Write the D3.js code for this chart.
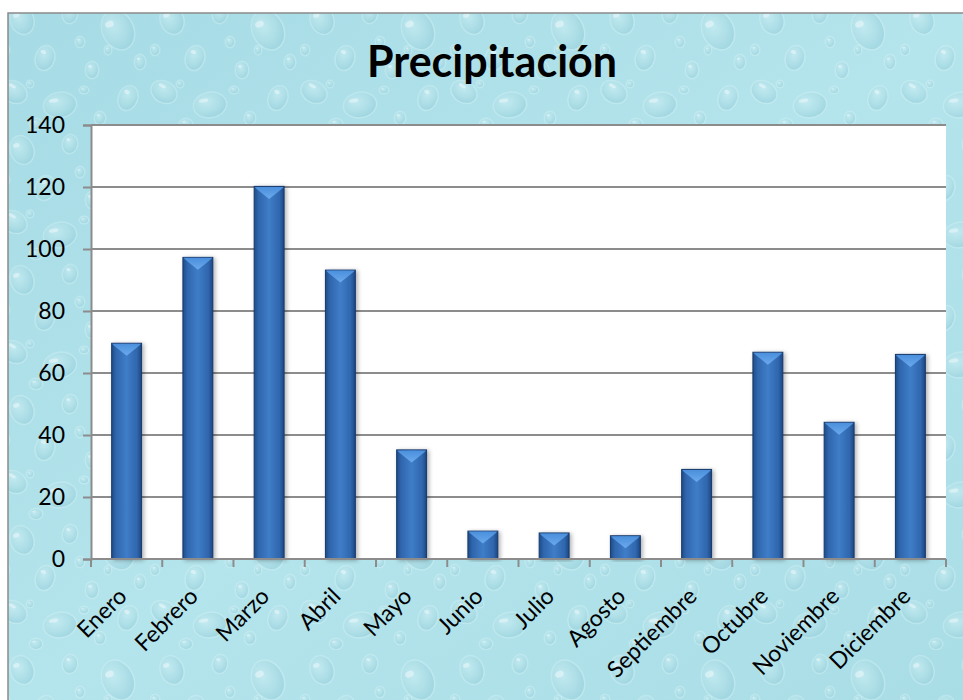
<!DOCTYPE html>
<html>
<head>
<meta charset="utf-8">
<script src="https://cdn.jsdelivr.net/npm/d3@7"></script>
<style>
  html, body { margin: 0; padding: 0; background: #ffffff; }
  svg { display: block; }
  text { font-family: Lato, "Open Sans", "DejaVu Sans", sans-serif; fill: #000; }
</style>
</head>
<body>
<svg id="chart" width="963" height="700"></svg>
<script>
// Monthly precipitation
const months = ["Enero", "Febrero", "Marzo", "Abril", "Mayo", "Junio", "Julio",
                "Agosto", "Septiembre", "Octubre", "Noviembre", "Diciembre"];
const precipitation = [69.6, 97.3, 120.2, 93.2, 35.2, 9.0, 8.4, 7.5, 28.9, 66.7, 44.1, 66.0];
const yTicks = [0, 20, 40, 60, 80, 100, 120, 140];
const chartTitle = "Precipitación";

const svg = d3.select("#chart");
const W = 963, H = 700;
const plot = { left: 91, right: 946, top: 125, bottom: 559 };

const defs = svg.append("defs");

// Water-drop texture tile
const drop = defs.append("radialGradient").attr("id", "drop")
  .attr("cx", "40%").attr("cy", "35%").attr("r", "70%");
drop.append("stop").attr("offset", "0%").attr("stop-color", "#c4ebf2");
drop.append("stop").attr("offset", "60%").attr("stop-color", "#9fd6e0");
drop.append("stop").attr("offset", "100%").attr("stop-color", "#80c4d2");

const bg = defs.append("linearGradient").attr("id", "bgGrad")
  .attr("x1", 0).attr("y1", 0).attr("x2", 1).attr("y2", 1);
bg.append("stop").attr("offset", "0%").attr("stop-color", "#a6dbe5");
bg.append("stop").attr("offset", "50%").attr("stop-color", "#b4e4ec");
bg.append("stop").attr("offset", "100%").attr("stop-color", "#a9dde6");

const tile = defs.append("pattern").attr("id", "drops")
  .attr("patternUnits", "userSpaceOnUse").attr("width", 150).attr("height", 130);
const dropShapes = [
  [22, 20, 11, 14, -20], [70, 14, 7, 9, 10], [118, 30, 15, 20, -25], [45, 58, 9, 12, 15],
  [92, 70, 6, 8, 0], [14, 92, 13, 10, 30], [60, 105, 16, 12, -10], [128, 98, 9, 12, 20],
  [100, 118, 5, 6, 0], [36, 124, 6, 5, 0], [140, 62, 5, 7, 0], [80, 42, 4, 5, 0],
  [5, 50, 4, 5, 0], [108, 50, 3, 4, 0], [30, 84, 3, 3, 0], [84, 90, 4, 3, 0]
];
dropShapes.forEach(([x, y, rx, ry, a]) => {
  const g = tile.append("g").attr("transform", `translate(${x},${y}) rotate(${a})`);
  g.append("ellipse").attr("rx", rx + 1.5).attr("ry", ry + 1.5).attr("fill", "#d0f0f5").attr("opacity", 0.45);
  g.append("ellipse").attr("rx", rx).attr("ry", ry).attr("fill", "url(#drop)").attr("opacity", 0.5);
  g.append("ellipse").attr("cx", -rx * 0.35).attr("cy", -ry * 0.45)
    .attr("rx", rx * 0.3).attr("ry", ry * 0.16).attr("fill", "#ffffff").attr("opacity", 0.4);
});

// Bar gradients
const body = defs.append("linearGradient").attr("id", "barBody")
  .attr("x1", 0).attr("y1", 0).attr("x2", 1).attr("y2", 0);
body.append("stop").attr("offset", "0%").attr("stop-color", "#1f4c88");
body.append("stop").attr("offset", "15%").attr("stop-color", "#2f66ad");
body.append("stop").attr("offset", "50%").attr("stop-color", "#3f7dc8");
body.append("stop").attr("offset", "85%").attr("stop-color", "#2f66ad");
body.append("stop").attr("offset", "100%").attr("stop-color", "#1d4680");

const cap = defs.append("linearGradient").attr("id", "barCap")
  .attr("x1", 0).attr("y1", 0).attr("x2", 0).attr("y2", 1);
cap.append("stop").attr("offset", "0%").attr("stop-color", "#4b8fdc");
cap.append("stop").attr("offset", "100%").attr("stop-color", "#6aa9ec");

const shadow = defs.append("filter").attr("id", "shadow")
  .attr("x", "-30%").attr("y", "-10%").attr("width", "160%").attr("height", "120%");
shadow.append("feDropShadow").attr("dx", 2).attr("dy", 1).attr("stdDeviation", 2)
  .attr("flood-color", "#000").attr("flood-opacity", 0.3);

// Chart background and border
svg.append("rect").attr("x", 8).attr("y", 13).attr("width", W).attr("height", H)
  .attr("fill", "url(#bgGrad)");
svg.append("rect").attr("x", 8).attr("y", 13).attr("width", W).attr("height", H)
  .attr("fill", "url(#drops)");
svg.append("rect").attr("x", 8).attr("y", 13).attr("width", W).attr("height", H)
  .attr("fill", "none").attr("stroke", "#8a8a8a").attr("stroke-width", 1.5);

// Title
svg.append("text").attr("x", 492).attr("y", 77).attr("text-anchor", "middle")
  .style("font-size", "43px").style("font-weight", "bold").text(chartTitle);

// Scales
const x = d3.scaleBand().domain(months).range([plot.left, plot.right])
  .paddingInner(0.58).paddingOuter(0.29);
const y = d3.scaleLinear().domain([0, 140]).range([plot.bottom, plot.top]);

// Plot area
svg.append("rect").attr("x", plot.left).attr("y", plot.top)
  .attr("width", plot.right - plot.left).attr("height", plot.bottom - plot.top)
  .attr("fill", "#ffffff");

// Gridlines
svg.append("g").selectAll("line").data(yTicks.filter(d => d > 0)).join("line")
  .attr("x1", plot.left).attr("x2", plot.right)
  .attr("y1", d => y(d)).attr("y2", d => y(d))
  .attr("stroke", "#8c8c8c").attr("stroke-width", 2);

// Y axis
const yAxis = svg.append("g").attr("transform", `translate(${plot.left},0)`)
  .call(d3.axisLeft(y).tickValues(yTicks).tickSize(8).tickPadding(18));
yAxis.select(".domain").attr("stroke", "#8c8c8c").attr("stroke-width", 2);
yAxis.selectAll(".tick line").attr("stroke", "#8c8c8c").attr("stroke-width", 2);
yAxis.selectAll(".tick text").style("font-size", "23px").style("font-family", "Lato, sans-serif")
  .attr("fill", "#000");

// Bars
const bw = x.bandwidth();
const capH = 12;
const bars = svg.append("g").selectAll("g").data(months.map((m, i) => ({ m, v: precipitation[i] })))
  .join("g");
bars.append("rect")
  .attr("x", d => x(d.m)).attr("y", d => y(d.v))
  .attr("width", bw).attr("height", d => y(0) - y(d.v))
  .attr("fill", "url(#barBody)").attr("stroke", "#18386a").attr("stroke-width", 1)
  .attr("filter", "url(#shadow)");
bars.append("path")
  .attr("d", d => {
    const x0 = x(d.m) + 0.5, x1 = x(d.m) + bw - 0.5, t = y(d.v) + 0.5;
    const h = Math.min(capH, (y(0) - y(d.v)) * 0.55);
    return `M${x0},${t}L${x1},${t}L${x1 - 2},${t + 2}L${(x0 + x1) / 2},${t + h}L${x0 + 2},${t + 2}Z`;
  })
  .attr("fill", "url(#barCap)");

// X axis
const bandStep = (plot.right - plot.left) / months.length;
const xAxisG = svg.append("g");
xAxisG.append("line").attr("x1", plot.left).attr("x2", plot.right)
  .attr("y1", plot.bottom).attr("y2", plot.bottom)
  .attr("stroke", "#8c8c8c").attr("stroke-width", 2);
xAxisG.selectAll("line.tick").data(d3.range(months.length + 1)).join("line")
  .attr("class", "tick")
  .attr("x1", i => plot.left + i * bandStep).attr("x2", i => plot.left + i * bandStep)
  .attr("y1", plot.bottom).attr("y2", plot.bottom + 8)
  .attr("stroke", "#8c8c8c").attr("stroke-width", 2);
xAxisG.selectAll("text").data(months).join("text")
  .attr("transform", d => `translate(${x(d) + bw / 2 - 4},${plot.bottom + 33}) rotate(-45)`)
  .attr("text-anchor", "end").attr("dy", "0.35em")
  .style("font-size", "23px").text(d => d);
</script>
</body>
</html>
